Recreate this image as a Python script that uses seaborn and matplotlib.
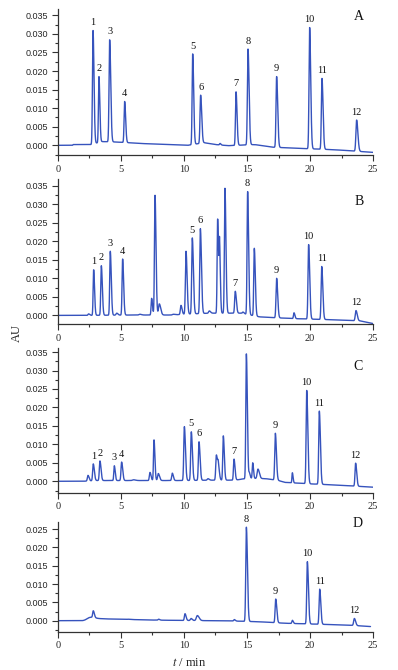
import numpy as np
import matplotlib
matplotlib.use('Agg')
import matplotlib.pyplot as plt
from matplotlib.ticker import MultipleLocator, FormatStrFormatter
import seaborn as sns

sns.set_theme(style='ticks')
plt.rcParams['font.family'] = 'Liberation Serif'
plt.rcParams['mathtext.fontset'] = 'stix'

LINE_COLOR = '#3653bd'

# retention time (min), apex height (AU), label, peak width (min)
A_rt = [2.78, 3.25, 4.10, 5.29, 10.69, 11.32, 12.86, 14.13, 15.08, 17.35, 19.97, 20.95, 23.70]
A_top = [0.0309, 0.0185, 0.0284, 0.0118, 0.0246, 0.0135, 0.0005, 0.0144, 0.0259, 0.0185, 0.0317, 0.0180, 0.0068]
A_lab = ['1', '2', '3', '4', '5', '6', '', '7', '8', '9', '10', '11', '12']
A_wid = [0.055, 0.05, 0.06, 0.055, 0.055, 0.06, 0.05, 0.055, 0.06, 0.06, 0.06, 0.06, 0.07]
A_base_t = [0, 1.15, 1.2, 2.6, 3.5, 4.5, 5.6, 6.5, 8, 10.3, 11.6, 12.5, 13.5, 15.6, 17, 19, 22, 25]
A_base_v = [0, 0, 0.0002, 0.0002, 0.0010, 0.0009, 0.0007, 0.0005, 0.0003, 0.0, 0.0007, 0.0002, -0.0001, 0.0002, -0.0005, -0.0008, -0.0012, -0.0019]

B_rt = [2.43, 2.83, 3.44, 4.15, 4.66, 5.13, 6.5, 7.43, 7.70, 8.04, 9.15, 9.76, 10.16, 10.66, 11.30, 12.01,
        12.67, 12.82, 13.25, 14.07, 14.68, 15.05, 15.58, 17.35, 18.73, 19.89, 20.93, 23.65]
B_top = [0.0004, 0.0123, 0.0134, 0.0173, 0.0006, 0.0152, 0.0003, 0.0046, 0.0324, 0.0031, 0.0003, 0.0027, 0.0173,
         0.0209, 0.0234, 0.0012, 0.0260, 0.0185, 0.0343, 0.0065, 0.0009, 0.0334, 0.0181, 0.0100, 0.0007, 0.0191,
         0.0132, 0.0013]
B_lab = ['', '1', '2', '3', '', '4', '', '', '', '', '', '', '', '5', '6', '', '', '', '', '7', '', '8', '', '9',
         '', '10', '11', '12']
B_wid = [0.06, 0.05, 0.055, 0.055, 0.07, 0.055, 0.09, 0.05, 0.055, 0.08, 0.09, 0.06, 0.06, 0.06, 0.06, 0.07,
         0.05, 0.045, 0.055, 0.06, 0.06, 0.055, 0.055, 0.06, 0.05, 0.06, 0.06, 0.07]
B_base_t = [0, 2, 6, 9, 10, 12, 14.5, 16, 17, 19, 22, 24, 25]
B_base_v = [0, 0, 0.0001, 0.0001, 0.0003, 0.0006, 0.0006, -0.0004, -0.0006, -0.0009, -0.0012, -0.0015, -0.0022]

C_rt = [2.38, 2.80, 3.33, 4.47, 5.05, 6.0, 7.30, 7.62, 7.96, 9.07, 10.03, 10.58, 11.19, 11.90, 12.57, 12.72,
        13.12, 13.97, 14.58, 14.95, 15.19, 15.45, 15.87, 17.25, 18.60, 19.74, 20.74, 23.62]
C_top = [0.0016, 0.0047, 0.0055, 0.0042, 0.0052, 0.0004, 0.0024, 0.0112, 0.0021, 0.0022, 0.0148, 0.0134, 0.0107,
         0.0007, 0.0071, 0.0042, 0.0123, 0.0060, 0.0006, 0.0345, 0.0022, 0.0050, 0.0033, 0.0130, 0.0023, 0.0246,
         0.0190, 0.0049]
C_lab = ['', '1', '2', '3', '4', '', '', '', '', '', '', '5', '6', '', '', '', '', '7', '', '', '', '', '', '9',
         '', '10', '11', '12']
C_wid = [0.06, 0.06, 0.06, 0.05, 0.06, 0.11, 0.06, 0.05, 0.07, 0.06, 0.06, 0.06, 0.06, 0.07, 0.06, 0.06,
         0.055, 0.055, 0.07, 0.055, 0.045, 0.045, 0.08, 0.06, 0.04, 0.06, 0.06, 0.06]
C_base_t = [0, 2, 3, 7, 10, 12, 14, 15.2, 16.5, 17.5, 18, 20, 22, 25]
C_base_v = [0, 0, 0.0002, 0.0002, 0.0002, 0.0003, 0.0003, 0.0008, 0.0007, 0.0002, -0.0003, -0.0007, -0.0010, -0.0016]

D_rt = [2.55, 2.80, 5.56, 7.99, 10.08, 10.56, 11.06, 13.99, 14.95, 17.28, 18.60, 19.79, 20.77, 23.52]
D_top = [0.0009, 0.0021, 0.0004, 0.0004, 0.0019, 0.0006, 0.0014, 0.0003, 0.0255, 0.0059, 0.0001, 0.0161, 0.0086,
         0.0006]
D_lab = ['', '', '', '', '', '', '', '', '8', '9', '', '10', '11', '12']
D_wid = [0.3, 0.06, 0.07, 0.06, 0.06, 0.07, 0.1, 0.06, 0.06, 0.06, 0.05, 0.06, 0.06, 0.07]
D_base_t = [0, 2, 3.5, 5, 7, 9, 12, 14, 16, 18, 20, 23, 24.8]
D_base_v = [0, 0, 0.0005, 0.0004, 0.0002, 0.0001, 0.0, -0.0001, -0.0003, -0.0007, -0.0009, -0.0012, -0.0016]

panels = [
    ('A', A_rt, A_top, A_lab, A_wid, A_base_t, A_base_v, (23.9, 0.0346)),
    ('B', B_rt, B_top, B_lab, B_wid, B_base_t, B_base_v, (23.9, 0.0308)),
    ('C', C_rt, C_top, C_lab, C_wid, C_base_t, C_base_v, (23.8, 0.0311)),
    ('D', D_rt, D_top, D_lab, D_wid, D_base_t, D_base_v, (23.8, 0.0264)),
]

# axes boxes (left, bottom, width, height) and y limits
boxes = [
    [0.1457, 0.7687, 0.7915, 0.2179],
    [0.1457, 0.5160, 0.7915, 0.2168],
    [0.1457, 0.2646, 0.7915, 0.2160],
    [0.1457, 0.0572, 0.7915, 0.1641],
]
ylims = [(-0.0026, 0.0367), (-0.0024, 0.0368), (-0.0031, 0.0361), (-0.0030, 0.0270)]

fig = plt.figure(figsize=(3.98, 6.70), dpi=100)

for (name, rt, top, lab, wid, bt, bv, letter_pos), box, yl in zip(panels, boxes, ylims):
    ax = fig.add_axes(box)
    t_end = bt[-1]
    t = np.linspace(0, t_end, int(t_end * 300) + 1)
    y = np.interp(t, bt, bv)
    for t0, h, w in zip(rt, top, wid):
        amp = h - np.interp(t0, bt, bv)
        sig = np.where(t < t0, w * 0.8, w * 1.4)
        y = y + amp * np.exp(-0.5 * ((t - t0) / sig) ** 2)
    sns.lineplot(x=t, y=y, ax=ax, color=LINE_COLOR, linewidth=1.0, estimator=None, sort=False)

    for t0, h, s in zip(rt, top, lab):
        if s:
            ax.text(t0, h + 0.0009, s, ha='center', va='bottom', fontsize=7.5, color='#111111')
    ax.text(letter_pos[0], letter_pos[1], name, ha='center', va='center', fontsize=10, color='#111111')

    ax.set_xlim(0, 25)
    ax.xaxis.set_major_locator(MultipleLocator(5))
    ax.xaxis.set_minor_locator(MultipleLocator(2.5))
    ax.yaxis.set_major_locator(MultipleLocator(0.005))
    ax.yaxis.set_minor_locator(MultipleLocator(0.0025))
    ax.yaxis.set_major_formatter(FormatStrFormatter('%.3f'))
    ax.set_ylim(*yl)
    ax.tick_params(axis='both', which='major', direction='out', length=4, width=0.8, color='#333333', pad=3)
    ax.tick_params(axis='both', which='minor', direction='out', length=2.5, width=0.8, color='#333333')
    ax.tick_params(axis='x', labelsize=7.5)
    ax.tick_params(axis='y', labelsize=6.5)
    for lbl in ax.get_yticklabels():
        lbl.set_fontfamily('Liberation Sans')
    for side in ['top', 'right']:
        ax.spines[side].set_visible(False)
    for side in ['left', 'bottom']:
        ax.spines[side].set_color('#333333')
        ax.spines[side].set_linewidth(0.9)
    ax.set_xlabel('')
    ax.set_ylabel('')

fig.text(17 / 398, 1 - 333 / 670, 'AU', rotation=90, ha='center', va='center', fontsize=9)
fig.text(189 / 398, 1 - 663 / 670, r'$t$ / min', ha='center', va='center', fontsize=9)

fig.savefig('out.png', dpi=100)
